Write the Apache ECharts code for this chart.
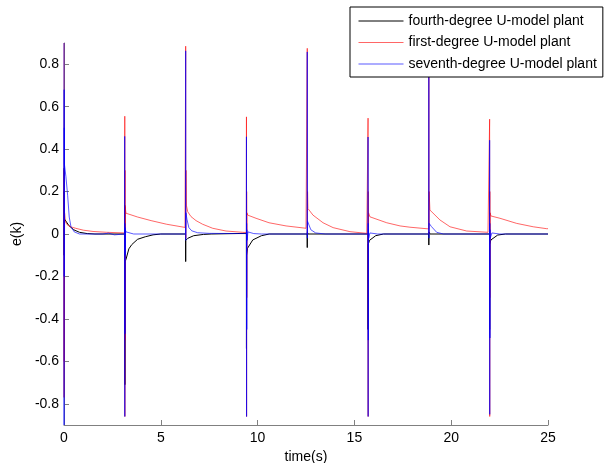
<!DOCTYPE html>
<html>
<head>
<meta charset="utf-8">
<script src="https://cdn.jsdelivr.net/npm/echarts@6/dist/echarts.min.js"></script>
<style>html,body{margin:0;padding:0;background:#fff}#c{width:608px;height:463px}</style>
</head>
<body>
<div id="c"></div>
<script>
// Series names (legend order)
var seriesNames = ['fourth-degree U-model plant', 'first-degree U-model plant', 'seventh-degree U-model plant'];

// Tick values
var xTicks = [0, 5, 10, 15, 20, 25];
var yTicks = [-0.8, -0.6, -0.4, -0.2, 0, 0.2, 0.4, 0.6, 0.8];
var yTickLabels = ['-0.8', '-0.6', '-0.4', '-0.2', '0', '0.2', '0.4', '0.6', '0.8'];

// fourth-degree (black): [time, e]
var fourthDegree = [
  [0, 0.31], [0.005, -0.1], [0.01, 0.2], [0.03, 0.07], [0.08, 0.066], [0.25, 0.04], [0.5, 0.02], [0.8, 0.008], [1.2, 0.002], [1.6, 0], [3.13, 0],
  [3.135, 0.136], [3.14, 0], [3.145, -0.71], [3.15, -0.3], [3.16, -0.13], [3.2, -0.12], [3.35, -0.07], [3.5, -0.05], [3.8, -0.025], [4.2, -0.013], [4.6, -0.004], [5.0, 0], [6.28, 0],
  [6.285, -0.13], [6.29, -0.03], [6.4, -0.02], [6.7, -0.008], [7.2, -0.002], [7.6, 0], [9.42, 0.003],
  [9.425, -0.54], [9.43, -0.1], [9.48, -0.067], [9.75, -0.028], [10.2, -0.008], [10.6, 0], [12.56, 0],
  [12.565, -0.064], [12.57, 0.01], [12.6, 0], [15.7, 0],
  [15.705, -0.45], [15.71, -0.05], [15.78, -0.03], [16.1, -0.008], [16.5, 0], [18.84, 0],
  [18.845, -0.052], [18.85, 0.01], [18.9, 0], [21.98, 0],
  [21.985, -0.45], [21.99, -0.05], [22.05, -0.028], [22.4, -0.005], [22.8, 0], [25, 0]
];

// first-degree (red): [time, e]
var firstDegree = [
  [0, 0.9], [0.004, -0.77], [0.008, 0.3], [0.012, -0.6], [0.03, 0.1], [0.06, 0.06], [0.15, 0.045], [0.3, 0.035], [0.6, 0.027], [1.0, 0.018], [1.5, 0.012], [2.2, 0.008], [3.13, 0.005],
  [3.14, 0.555], [3.145, -0.86], [3.15, 0.3], [3.155, -0.5], [3.16, 0.13], [3.2, 0.098], [3.8, 0.08], [4.5, 0.063], [5.3, 0.046], [6.25, 0.031], [6.28, 0.03],
  [6.285, 0.885], [6.29, -0.02], [6.3, 0.3], [6.32, 0.136], [6.39, 0.105], [6.56, 0.082], [6.82, 0.063], [7.16, 0.046], [7.68, 0.027], [8.37, 0.014], [9.23, 0.008], [9.42, 0.007],
  [9.425, 0.552], [9.43, -0.86], [9.435, 0.2], [9.44, -0.3], [9.45, 0.1], [9.49, 0.089], [9.92, 0.074], [10.59, 0.053], [11.47, 0.038], [12.5, 0.027], [12.56, 0.027],
  [12.565, 0.875], [12.57, 0], [12.58, 0.2], [12.6, 0.12], [12.86, 0.089], [13.38, 0.053], [13.9, 0.03], [14.77, 0.011], [15.64, 0.003], [15.7, 0.003],
  [15.705, 0.546], [15.71, -0.86], [15.715, 0.2], [15.72, -0.3], [15.73, 0.1], [15.8, 0.081], [16.67, 0.053], [17.36, 0.038], [17.87, 0.032], [18.84, 0.024],
  [18.845, 0.88], [18.85, 0], [18.86, 0.2], [18.9, 0.113], [19.42, 0.066], [19.94, 0.034], [20.8, 0.014], [21.9, 0.008], [21.98, 0.008],
  [21.985, 0.541], [21.99, -0.86], [21.995, 0.2], [22.0, -0.3], [22.01, 0.1], [22.05, 0.085], [22.52, 0.074], [23.38, 0.05], [24.24, 0.034], [24.93, 0.025], [25, 0.025]
];

// seventh-degree (blue): [time, e]
var seventhDegree = [
  [0, 0.9], [0.004, -0.9], [0.008, 0.68], [0.012, -0.2], [0.016, 0.5], [0.02, 0.33], [0.1, 0.27], [0.19, 0.18], [0.27, 0.08], [0.36, 0.034], [0.53, 0.01], [0.8, 0], [2.0, 0], [2.3, 0.004], [2.6, -0.004], [3.13, 0],
  [3.135, 0.46], [3.14, -0.86], [3.145, 0.05], [3.15, -0.47], [3.155, 0.03], [3.16, -0.1], [3.17, 0.02], [3.2, 0.01], [3.3, 0.003], [3.6, 0], [6.28, 0],
  [6.285, 0.863], [6.29, -0.03], [6.3, 0.1], [6.35, 0.07], [6.45, 0.03], [6.6, 0.015], [6.9, 0.006], [7.5, 0.003], [9.0, 0.002], [9.42, 0.002],
  [9.425, 0.458], [9.43, -0.86], [9.435, 0.05], [9.44, -0.45], [9.445, 0.02], [9.46, -0.03], [9.5, 0.01], [9.8, 0.002], [10.2, 0], [12.56, 0],
  [12.565, 0.858], [12.57, -0.02], [12.58, 0.06], [12.75, 0.02], [13.0, 0.005], [13.5, 0], [15.7, 0],
  [15.705, 0.457], [15.71, -0.86], [15.715, 0.05], [15.72, -0.5], [15.725, 0.02], [15.74, -0.02], [15.8, 0.005], [16.2, 0], [18.84, 0],
  [18.845, 0.86], [18.85, -0.02], [18.86, 0.05], [18.98, 0.035], [19.25, 0.008], [19.6, 0], [21.98, 0],
  [21.985, 0.442], [21.99, -0.85], [21.995, 0.05], [22.0, -0.49], [22.005, 0.02], [22.02, -0.02], [22.1, 0.005], [22.5, 0], [25, 0]
];

var FONT = '"Liberation Sans", Arial, Helvetica, sans-serif';
var axisGrey = '#808080';

var chart = echarts.init(document.getElementById('c'), null, {renderer: 'canvas'});
chart.setOption({
  animation: false,
  backgroundColor: '#fff',
  textStyle: {fontFamily: FONT},
  grid: {left: 64, right: 60, top: 43, bottom: 38, containLabel: false, outerBoundsMode: 'none'},
  legend: {
    orient: 'vertical',
    left: 350, top: 7,
    padding: [7, 6, 6, 8],
    itemWidth: 45, itemHeight: 14, itemGap: 7.5,
    borderColor: '#000', borderWidth: 1,
    backgroundColor: '#fff',
    z: 20,
    itemStyle: {opacity: 0},
    lineStyle: {width: 1},
    textStyle: {fontFamily: FONT, fontSize: 14, color: '#000'},
    data: seriesNames
  },
  xAxis: {
    type: 'value', min: 0, max: 25, interval: 5,
    name: 'time(s)', nameLocation: 'middle', nameGap: 25,
    nameTextStyle: {fontFamily: FONT, fontSize: 14, color: '#000'},
    axisLine: {onZero: false, lineStyle: {color: axisGrey, width: 1}},
    axisTick: {inside: true, length: 5, lineStyle: {color: axisGrey}},
    axisLabel: {fontFamily: FONT, fontSize: 14, color: '#000', margin: 6},
    splitLine: {show: false}
  },
  yAxis: {
    type: 'value', min: -0.9, max: 0.9,
    name: 'e(k)', nameLocation: 'middle', nameGap: 36,
    nameTextStyle: {fontFamily: FONT, fontSize: 14, color: '#000'},
    axisLine: {show: true, onZero: false, lineStyle: {color: axisGrey, width: 1}},
    axisTick: {show: true, inside: true, length: 5, customValues: yTicks, lineStyle: {color: axisGrey}},
    axisLabel: {
      fontFamily: FONT, fontSize: 14, color: '#000', margin: 5,
      customValues: yTicks,
      formatter: function (v) {
        var i = yTicks.findIndex(function (t) { return Math.abs(t - v) < 1e-9; });
        return i >= 0 ? yTickLabels[i] : '';
      }
    },
    splitLine: {show: false}
  },
  series: [
    {name: seriesNames[0], type: 'line', data: fourthDegree, symbol: 'none', showSymbol: false,
      lineStyle: {color: '#000000', width: 1}, itemStyle: {color: '#000000'}, z: 2},
    {name: seriesNames[1], type: 'line', data: firstDegree, symbol: 'none', showSymbol: false,
      lineStyle: {color: '#ff0000', width: 1, opacity: 0.6}, itemStyle: {color: '#ff0000'}, z: 3},
    {name: seriesNames[2], type: 'line', data: seventhDegree, symbol: 'none', showSymbol: false,
      lineStyle: {color: '#0000ff', width: 1, opacity: 0.65}, itemStyle: {color: '#0000ff'}, z: 4}
  ]
});
</script>
</body>
</html>
